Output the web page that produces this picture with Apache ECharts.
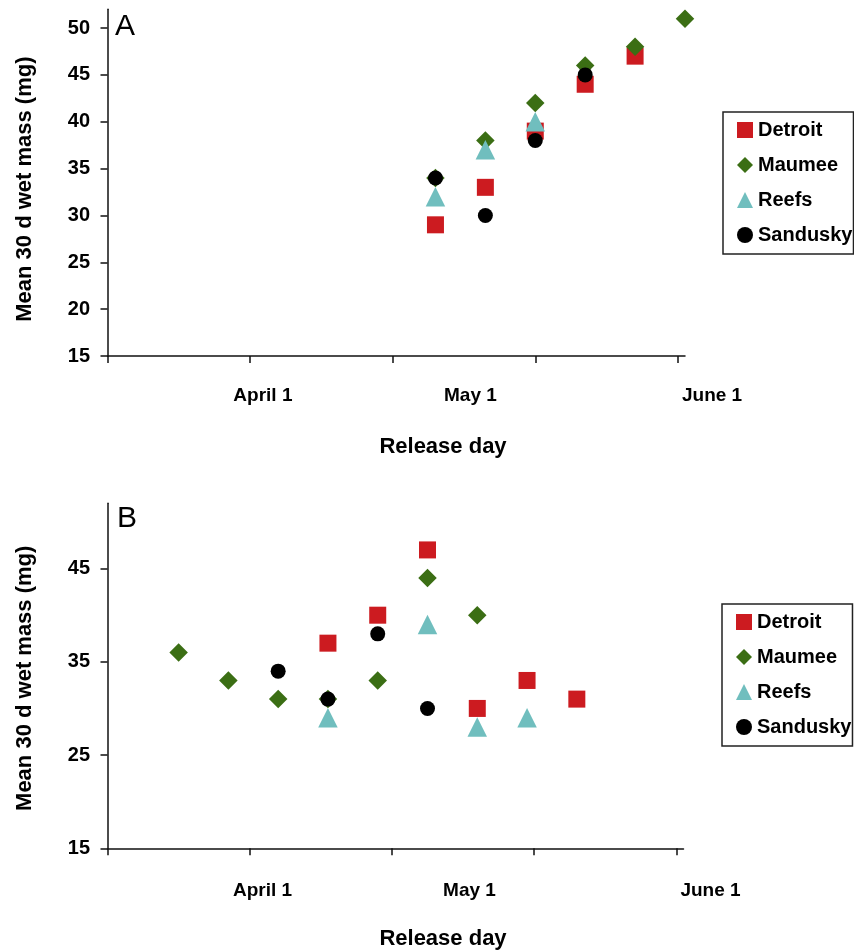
<!DOCTYPE html>
<html><head><meta charset="utf-8">
<script src="https://cdn.jsdelivr.net/npm/echarts@6/dist/echarts.min.js"></script>
<style>html,body{margin:0;padding:0;background:#fff}#c{width:854px;height:952px}</style>
</head><body><div id="c"></div>
<script>
// ---------- data ----------
const seriesNames = ['Detroit', 'Maumee', 'Reefs', 'Sandusky'];

// Panel A (release day as day of year, mean 30 d wet mass in mg)
const dayA_Detroit = [106, 113, 120, 127, 134];
const massA_Detroit = [29, 33, 39, 44, 47];
const dayA_Maumee = [106, 113, 120, 127, 134, 141];
const massA_Maumee = [34, 38, 42, 46, 48, 51];
const dayA_Reefs = [106, 113, 120];
const massA_Reefs = [32, 37, 40];
const dayA_Sandusky = [106, 113, 120, 127];
const massA_Sandusky = [34, 30, 38, 45];

// Panel B
const dayB_Detroit = [91, 98, 105, 112, 119, 126];
const massB_Detroit = [37, 40, 47, 30, 33, 31];
const dayB_Maumee = [70, 77, 84, 91, 98, 105, 112];
const massB_Maumee = [36, 33, 31, 31, 33, 44, 40];
const dayB_Reefs = [91, 105, 112, 119];
const massB_Reefs = [29, 39, 28, 29];
const dayB_Sandusky = [84, 91, 98, 105];
const massB_Sandusky = [34, 31, 38, 30];

// axes / ticks
const xMin = 60, xMax = 141;
const xTicks = [60, 80, 100, 120, 140];
const yMin = 15, yMax = 52;
const yTicksA = [15, 20, 25, 30, 35, 40, 45, 50];
const yTicksB = [15, 25, 35, 45];
const dateLabels = ['April 1', 'May 1', 'June 1'];
const dateLabelDays = [81.8, 110.9, 144.8];
const panelLabels = ['A', 'B'];
const xTitle = 'Release day';
const yTitle = 'Mean 30 d wet mass (mg)';

// ---------- styles / layout ----------
const FONT = "'Liberation Sans', Arial, Helvetica, sans-serif";
const colors = { Detroit: '#CC1B20', Maumee: '#3B6E14', Reefs: '#70BEBE', Sandusky: '#000000' };
const symbols = { Detroit: 'rect', Maumee: 'diamond', Reefs: 'triangle', Sandusky: 'circle' };
const sizes = { Detroit: 17, Maumee: 18.5, Reefs: 19.5, Sandusky: 15 };

const LEFT = 107.5;
const panels = [
  { top: 9.3, height: 346.7, width: 577.5, ticks: yTicksA, interval: 5,
    legendTop: 112, legendLeft: 723,
    days: { Detroit: dayA_Detroit, Maumee: dayA_Maumee, Reefs: dayA_Reefs, Sandusky: dayA_Sandusky },
    mass: { Detroit: massA_Detroit, Maumee: massA_Maumee, Reefs: massA_Reefs, Sandusky: massA_Sandusky },
    labelMargin: 30.5, letterY: 27, letterX: 115, yNameShift: 13 },
  { top: 503.3, height: 345, width: 576, ticks: yTicksB, interval: 10,
    legendTop: 604, legendLeft: 722,
    days: { Detroit: dayB_Detroit, Maumee: dayB_Maumee, Reefs: dayB_Reefs, Sandusky: dayB_Sandusky },
    mass: { Detroit: massB_Detroit, Maumee: massB_Maumee, Reefs: massB_Reefs, Sandusky: massB_Sandusky },
    labelMargin: 33, letterY: 519, letterX: 117, yNameShift: 5 }
];
const LABEL_W = 671; // wider invisible axis that carries the date labels and the axis title

const grid = [], xAxis = [], yAxis = [], series = [], legend = [], graphic = [];
const axisLineStyle = { color: '#111', width: 1.5 };

panels.forEach((p, i) => {
  grid.push({ left: LEFT, top: p.top, width: p.width, height: p.height });
  xAxis.push({
    type: 'value', gridIndex: i, min: xMin, max: xMax, interval: 20,
    axisLine: { show: true, onZero: false, lineStyle: axisLineStyle },
    axisTick: { show: true, length: 7, customValues: xTicks, lineStyle: axisLineStyle },
    axisLabel: { show: false }, splitLine: { show: false }
  });
  yAxis.push({
    type: 'value', gridIndex: i, min: yMin, max: yMax, interval: p.interval,
    axisLine: { show: true, onZero: false, lineStyle: axisLineStyle },
    axisTick: { show: true, length: 7, customValues: p.ticks, lineStyle: axisLineStyle },
    axisLabel: { show: true, customValues: p.ticks, margin: 17.5, fontFamily: FONT, fontWeight: 'bold', fontSize: 20, color: '#000' },
    splitLine: { show: false },
    name: yTitle, nameLocation: 'middle', nameRotate: 90, nameGap: 72,
    nameTextStyle: { fontFamily: FONT, fontWeight: 'bold', fontSize: 22, color: '#000', padding: [0, p.yNameShift, 0, 0] }
  });
  seriesNames.forEach(n => {
    series.push({
      type: 'scatter', name: n, xAxisIndex: i, yAxisIndex: i,
      symbol: symbols[n], symbolSize: sizes[n],
      itemStyle: { color: colors[n], opacity: 1 },
      data: p.days[n].map((d, k) => [d, p.mass[n][k]]),
      silent: true
    });
  });
  legend.push({
    orient: 'vertical', left: p.legendLeft, top: p.legendTop,
    data: seriesNames, itemWidth: 16, itemHeight: 16, itemGap: 15,
    padding: [8, 1, 9, 14], borderColor: '#222', borderWidth: 1.5, backgroundColor: '#fff',
    textStyle: { fontFamily: FONT, fontWeight: 'bold', fontSize: 20, lineHeight: 20, color: '#000' },
    selectedMode: false
  });
  graphic.push({
    type: 'text', left: p.letterX, top: p.letterY - 15,
    style: { text: panelLabels[i], font: '30px ' + FONT, fill: '#000' }
  });
});

// invisible axes carrying the date labels and x title
panels.forEach((p, i) => {
  const gi = panels.length + i;
  grid.push({ left: LEFT, top: p.top, width: LABEL_W, height: p.height });
  const labelMax = xMin + LABEL_W * (xMax - xMin) / p.width;
  xAxis.push({
    type: 'value', gridIndex: gi, min: xMin, max: labelMax,
    axisLine: { show: false }, axisTick: { show: false }, splitLine: { show: false },
    axisLabel: {
      show: true, customValues: dateLabelDays, margin: p.labelMargin,
      fontFamily: FONT, fontWeight: 'bold', fontSize: 19, color: '#000',
      formatter: v => {
        let best = 0;
        dateLabelDays.forEach((d, k) => { if (Math.abs(d - v) < Math.abs(dateLabelDays[best] - v)) best = k; });
        return dateLabels[best];
      }
    },
    name: xTitle, nameLocation: 'middle', nameGap: 80,
    nameTextStyle: { fontFamily: FONT, fontWeight: 'bold', fontSize: 22, color: '#000' }
  });
  yAxis.push({ type: 'value', gridIndex: gi, min: yMin, max: yMax, show: false });
});

const chart = echarts.init(document.getElementById('c'), null, { renderer: 'canvas' });
chart.setOption({
  animation: false, backgroundColor: '#fff',
  grid, xAxis, yAxis, series, legend, graphic
});
</script></body></html>
